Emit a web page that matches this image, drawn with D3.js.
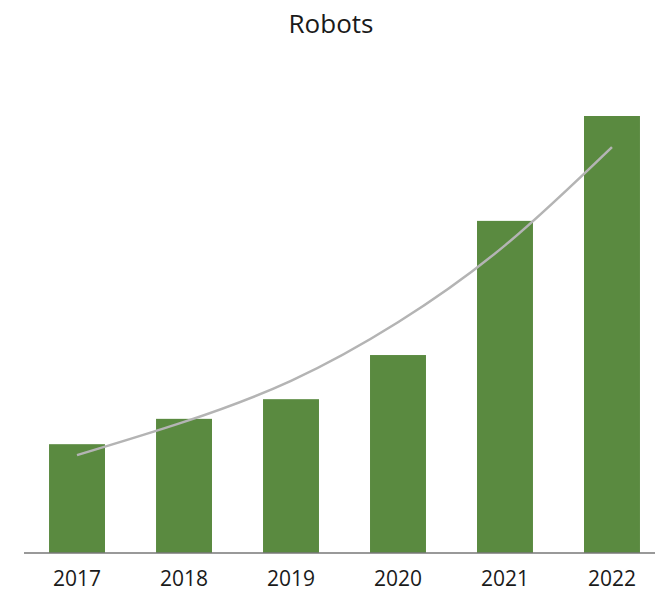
<!DOCTYPE html>
<html>
<head>
<meta charset="utf-8">
<script src="https://cdn.jsdelivr.net/npm/d3@7"></script>
<style>
  body { margin: 0; background: #fff; }
  svg { display: block; font-family: "Open Sans", sans-serif; }
</style>
</head>
<body>
<svg id="vis" width="658" height="591"></svg>
<script>
// data (relative units, 2022 = 100)
const years = ["2017", "2018", "2019", "2020", "2021", "2022"]
const robots = [24.9, 30.7, 35.2, 45.3, 76.0, 100]
const trend = [22.4, 30.0, 39.4, 52.8, 70.4, 92.9]

const vis = d3.select("#vis")

const baseY = 553
const xScale = d3.scaleBand().domain(years).range([24, 665]).paddingInner(0.477).paddingOuter(0.234)
const yScale = d3.scaleLinear().domain([0, 100]).range([baseY, 116])

// title
vis.append("text")
  .attr("x", 331)
  .attr("y", 33)
  .attr("text-anchor", "middle")
  .attr("font-size", 26)
  .attr("fill", "#1a1a1a")
  .text("Robots")

// bars
vis.selectAll(".bar")
  .data(robots)
  .enter()
  .append("rect")
  .attr("class", "bar")
  .attr("x", (d, i) => xScale(years[i]))
  .attr("y", d => yScale(d))
  .attr("width", xScale.bandwidth())
  .attr("height", d => baseY - yScale(d))
  .attr("fill", "#5a8a40")

// trend line
const line = d3.line()
  .x((d, i) => xScale(years[i]) + xScale.bandwidth() / 2)
  .y(d => yScale(d))
  .curve(d3.curveNatural)

vis.append("path")
  .datum(trend)
  .attr("d", line)
  .attr("fill", "none")
  .attr("stroke", "#b4b4b4")
  .attr("stroke-width", 2.5)

// x axis
const xAxis = d3.axisBottom(xScale).tickSize(0).tickPadding(17)
const gx = vis.append("g").attr("transform", `translate(0, ${baseY})`).call(xAxis)
gx.select(".domain").remove()
gx.selectAll("text")
  .attr("font-size", 21)
  .attr("fill", "#1a1a1a")
  .attr("font-family", "Open Sans, sans-serif")
  .attr("dy", null)
  .attr("y", 33)

vis.append("line")
  .attr("x1", 24).attr("x2", 655)
  .attr("y1", baseY).attr("y2", baseY)
  .attr("stroke", "#777")
  .attr("stroke-width", 1.5)
</script>
</body>
</html>
